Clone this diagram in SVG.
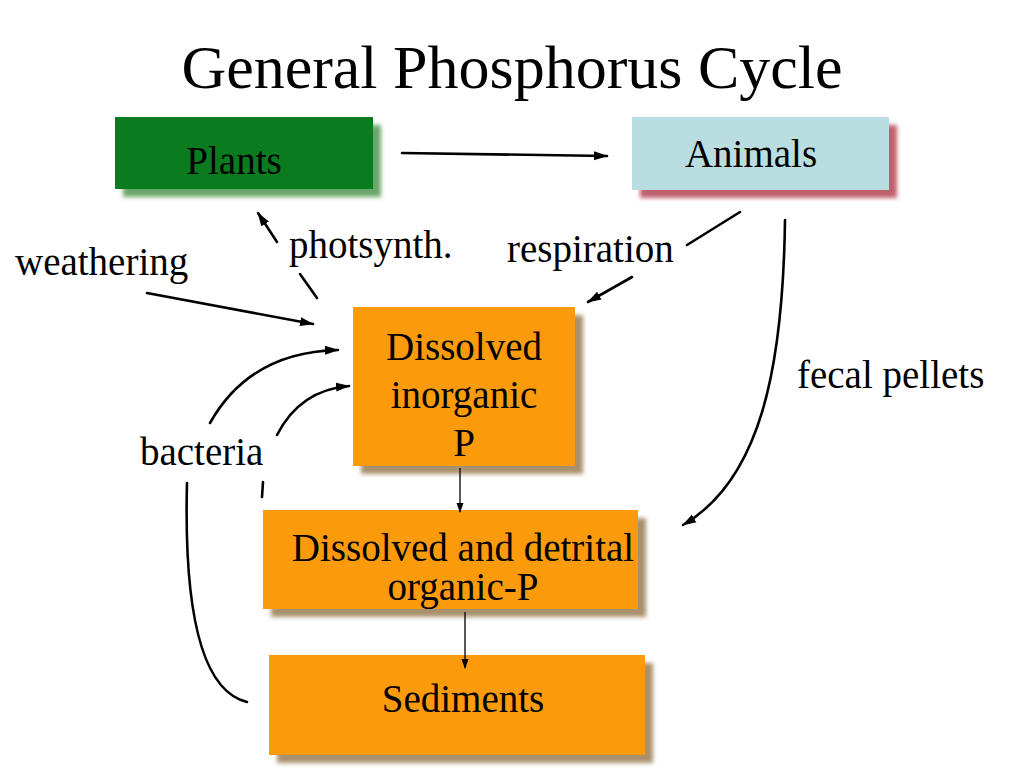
<svg xmlns="http://www.w3.org/2000/svg" width="1024" height="768" viewBox="0 0 1024 768">
<style>
text{font-family:'Liberation Serif','Times New Roman','DejaVu Serif',serif;fill:#000;}
.t{font-size:62px;}
.l{font-size:39px;}
.c{stroke:#000;stroke-width:2.6;fill:none;stroke-linecap:round;}
.th{stroke:#000;stroke-width:1.3;fill:none;}
</style>
<defs>
<filter id="blur" x="-10%" y="-10%" width="120%" height="130%"><feGaussianBlur stdDeviation="2.2"/></filter>
<marker id="ah" markerUnits="userSpaceOnUse" markerWidth="14" markerHeight="10" refX="13" refY="5" orient="auto"><path d="M0,0.5 L14,5 L0,9.5 z" fill="#000"/></marker>
<marker id="as" markerUnits="userSpaceOnUse" markerWidth="10" markerHeight="8" refX="9" refY="4" orient="auto"><path d="M0,0.5 L10,4 L0,7.5 z" fill="#000"/></marker>
</defs>
<rect width="1024" height="768" fill="#fff"/>
<g font-family="Liberation Serif, Times New Roman, serif">
<text class="t" x="512" y="88" text-anchor="middle">General Phosphorus Cycle</text>

<g id="plants">
<rect x="123" y="125" width="258" height="72" fill="#6aa66a" filter="url(#blur)"/>
<rect x="115" y="117" width="258" height="72" fill="#0a7b1f"/>
<text class="l" x="234" y="174" text-anchor="middle">Plants</text>
</g>
<g id="animals">
<rect x="640" y="125" width="257" height="73" fill="#c0606e" filter="url(#blur)"/>
<rect x="632" y="117" width="257" height="73" fill="#badde2"/>
<text class="l" x="751" y="167" text-anchor="middle">Animals</text>
</g>
<g id="dip">
<rect x="361" y="315" width="222" height="159" fill="#a8916c" filter="url(#blur)"/>
<rect x="353" y="307" width="222" height="159" fill="#fb9a0b"/>
<text class="l" x="464" y="360" text-anchor="middle">Dissolved</text>
<text class="l" x="464" y="408" text-anchor="middle">inorganic</text>
<text class="l" x="464" y="456" text-anchor="middle">P</text>
</g>
<g id="dop">
<rect x="271" y="518" width="375" height="99" fill="#a8916c" filter="url(#blur)"/>
<rect x="263" y="510" width="375" height="99" fill="#fb9a0b"/>
<text class="l" x="463" y="561" text-anchor="middle">Dissolved and detrital</text>
<text class="l" x="463" y="600" text-anchor="middle">organic-P</text>
</g>
<g id="sediments">
<rect x="277" y="663" width="376" height="100" fill="#a8916c" filter="url(#blur)"/>
<rect x="269" y="655" width="376" height="100" fill="#fb9a0b"/>
<text class="l" x="463" y="712" text-anchor="middle">Sediments</text>
</g>

<g id="labels">
<text class="l" x="15" y="275">weathering</text>
<text class="l" x="289" y="258">photsynth.</text>
<text class="l" x="507" y="262">respiration</text>
<text class="l" x="797" y="388">fecal pellets</text>
<text class="l" x="140" y="465">bacteria</text>
</g>
</g>

<g id="connectors">
<path class="c" d="M402,153 L607,156" marker-end="url(#ah)"/>
<path class="c" d="M147,293 L313,324" marker-end="url(#ah)"/>
<path class="c" d="M317,298 L300,274"/>
<path class="c" d="M277,242 L258,213" marker-end="url(#ah)"/>
<path class="c" d="M740,212 L687,245"/>
<path class="c" d="M632,277 L588,302" marker-end="url(#ah)"/>
<path class="c" d="M785,220 C783,370 760,480 683,525" marker-end="url(#ah)"/>
<path class="c" d="M210,423 Q250,352 338,350" marker-end="url(#ah)"/>
<path class="c" d="M277,435 Q300,390 349,386" marker-end="url(#ah)"/>
<path class="c" d="M187,483 C184,600 198,690 247,702"/>
<path class="c" d="M263,482 L262,497"/>
<path class="th" d="M460,468 L460,512" marker-end="url(#as)"/>
<path class="th" d="M465,612 L465,668" marker-end="url(#as)"/>
</g>
</svg>
